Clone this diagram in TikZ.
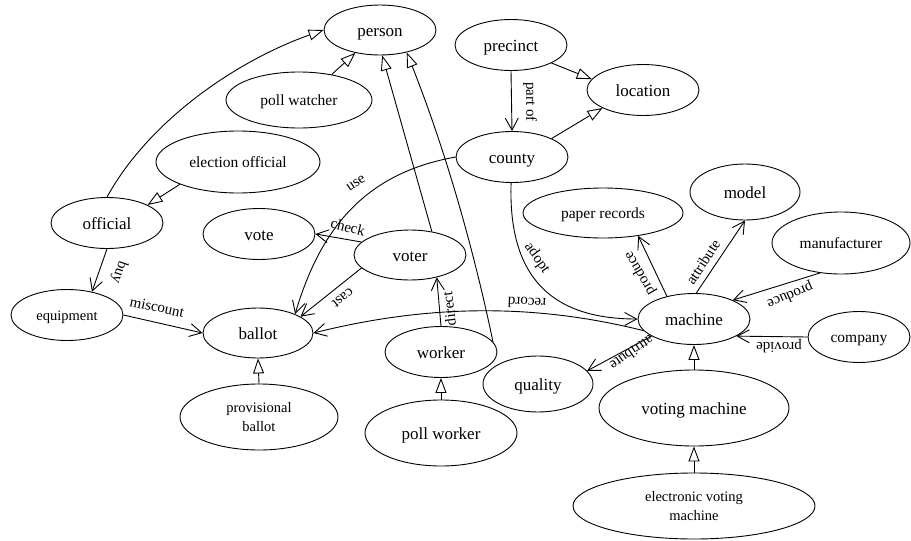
\documentclass[tikz,border=0pt]{standalone}
\usepackage{fontspec}
\setmainfont{Liberation Serif}
\usetikzlibrary{shapes.geometric,arrows.meta}
\begin{document}
\begin{tikzpicture}[x=1pt,y=-1pt,
  every node/.style={inner sep=0pt},
  concept/.style n args={2}{draw, ellipse, line width=0.9pt, minimum width=#1, minimum height=#2},
  big/.style={font=\fontsize{17}{19}\selectfont, text height=15pt, text depth=3pt},
  mid/.style={font=\fontsize{15.5}{19}\selectfont, text height=13.5pt, text depth=2.5pt},
  small/.style={font=\fontsize{14.5}{19.5}\selectfont},
  lbl/.style={font=\fontsize{15}{17}\selectfont},
  isa/.style={line width=0.9pt, -{Triangle[open,length=15pt,width=11pt]}},
  rel/.style={line width=0.9pt, -{Straight Barb[length=12pt,width=13pt]}}]
\useasboundingbox (0,0) rectangle (911,541);

% concepts
\node[concept={112pt}{50pt},big] (person) at (380,30) {person};
\node[concept={146pt}{56pt},mid] (pollwatcher) at (299,100) {poll watcher};
\node[concept={164pt}{62pt},mid] (elecofficial) at (238,162) {election official};
\node[concept={112pt}{51pt},big] (precinct) at (511,45) {precinct};
\node[concept={112pt}{51pt},big] (location) at (643,90) {location};
\node[concept={112pt}{51pt},big] (county) at (512,157) {county};
\node[concept={112pt}{51pt},big] (official) at (107,223) {official};
\node[concept={112pt}{51pt},big] (vote) at (259,234) {vote};
\node[concept={112pt}{50pt},big] (voter) at (410,255) {voter};
\node[concept={112pt}{51pt},small,text height=13pt,text depth=2.5pt] (equipment) at (67,315) {equipment};
\node[concept={110pt}{50pt},big] (ballot) at (258,333) {ballot};
\node[concept={160pt}{50pt},mid] (paper) at (603,213) {paper records};
\node[concept={110pt}{56pt},big] (model) at (745,192) {model};
\node[concept={138pt}{62pt},mid] (manufacturer) at (841,243) {manufacturer};
\node[concept={112pt}{51pt},big] (machine) at (694,319) {machine};
\node[concept={102pt}{51pt},mid] (company) at (859,337) {company};
\node[concept={112pt}{51pt},big] (worker) at (441,352) {worker};
\node[concept={110pt}{56pt},big] (quality) at (538,384) {quality};
\node[concept={158pt}{66pt},small,align=center] (provballot) at (259,417) {provisional\\ballot};
\node[concept={152pt}{66pt},big] (pollworker) at (441,433) {poll worker};
\node[concept={190pt}{76pt},big] (votingmachine) at (694,408) {voting machine};
\node[concept={242pt}{66pt},small,align=center] (evm) at (694,506) {electronic voting\\machine};

% subclass links
\draw[isa] (official.north) .. controls +(43,-78) and +(-85,30) .. (person.west);
\draw[isa] (pollwatcher.38) -- (person.-137);
\draw[isa] (elecofficial.-159) -- (official.24);
\draw[isa] (voter.47) -- (person.-85);
\draw[isa] (worker.11) .. controls +(-20,-96) and +(38,96) .. (person.-40);
\draw[isa] (precinct.-24) -- (location.168);
\draw[isa] (county.25) -- (location.-156);
\draw[isa] (votingmachine.north) -- (machine.south);
\draw[isa] (evm.north) -- (votingmachine.south);
\draw[isa] (provballot.north) -- (ballot.south);
\draw[isa] (pollworker.north) -- (worker.south);

% relations
\draw[rel] (official.south) -- (equipment.43);
\draw[rel] (equipment.east) -- (ballot.west);
\draw[rel] (voter.165) -- (vote.east);
\draw[rel] (county.west) .. controls +(-89,16) and +(26,-88) .. (ballot.27);
\draw[rel] (voter.-165) -- (ballot.21);
\draw[rel] (machine.-167) .. controls +(-112,-28) and +(112,-28) .. (ballot.east);
\draw[rel] (county.-92) .. controls +(-3,90) and +(-90,0) .. (machine.west);
\draw[rel] (machine.140) -- (paper.-33);
\draw[rel] (machine.85) -- (model.south);
\draw[rel] (manufacturer.-125) -- (machine.26);
\draw[rel] (company.west) -- (machine.-22);
\draw[rel] (machine.-158) -- (quality.15);
\draw[rel] (worker.north) -- (voter.-40);
\draw[rel] (precinct.south) -- (county.north);

% relation labels
\node[lbl,rotate=-109] (l-buy) at (119,272) {buy};
\node[lbl,rotate=-12] (l-miscount) at (157,307) {miscount};
\node[lbl,rotate=-14] (l-check) at (348,227) {check};
\node[lbl,rotate=33] (l-use) at (356,183) {use};
\node[lbl,rotate=218] (l-cast) at (343,298) {cast};
\node[lbl,rotate=177] (l-record) at (527,303) {record};
\node[lbl,rotate=-55] (l-adopt) at (537,258) {adopt};
\node[lbl,rotate=120] (l-produce1) at (640,273) {produce};
\node[lbl,rotate=57] (l-attr1) at (703,262) {attribute};
\node[lbl,rotate=203] (l-produce2) at (790,295) {produce};
\node[lbl,rotate=180] (l-provide) at (779,346) {provide};
\node[lbl,rotate=215] (l-attr2) at (632,353) {attribute};
\node[lbl,rotate=97] (l-direct) at (449,309) {direct};
\node[lbl,rotate=-90] (l-partof) at (530,102) {part of};
\end{tikzpicture}
\end{document}
